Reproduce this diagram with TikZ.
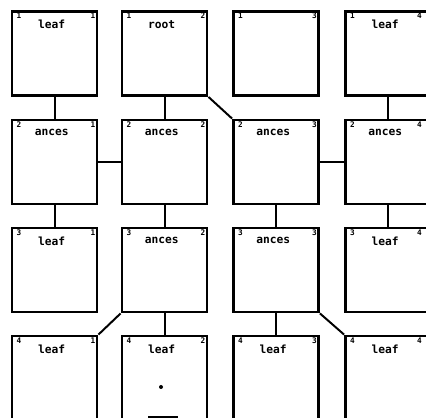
\documentclass[tikz,border=0pt]{standalone}
\usepackage{fontspec}
\newfontfamily\cellfont{DejaVu Sans Mono}
\usepackage{tikz}
\tikzset{
  cell/.style={draw=black, line width=2pt, minimum width=2.125cm, minimum height=2.1cm, inner sep=0pt},
  rowtag/.style={font=\cellfont\bfseries\fontsize{5.5}{6}\selectfont, anchor=north west, inner sep=0pt, xshift=4pt, yshift=-2pt},
  coltag/.style={font=\cellfont\bfseries\fontsize{5.5}{6}\selectfont, anchor=north east, inner sep=0pt, xshift=-2pt, yshift=-2pt},
  kind/.style={font=\cellfont\bfseries\fontsize{8}{9}\selectfont, anchor=north, inner sep=0pt, xshift=-2pt, yshift=-7pt},
  link/.style={line width=1.4pt, draw=black},
}

\begin{document}
\begin{tikzpicture}
\useasboundingbox (0,0) rectangle (10.65,10.45);
% row 1
\node[cell] (b11) at (1.363,9.113) {};
\node[cell] (b12) at (4.113,9.113) {};
\node[cell] (b13) at (6.900,9.113) {};
\node[cell] (b14) at (9.700,9.113) {};
% row 2
\node[cell] (b21) at (1.363,6.400) {};
\node[cell] (b22) at (4.113,6.400) {};
\node[cell] (b23) at (6.900,6.400) {};
\node[cell] (b24) at (9.700,6.400) {};
% row 3
\node[cell] (b31) at (1.363,3.700) {};
\node[cell] (b32) at (4.113,3.700) {};
\node[cell] (b33) at (6.900,3.700) {};
\node[cell] (b34) at (9.700,3.700) {};
% row 4
\node[cell] (b41) at (1.363,1.000) {};
\node[cell] (b42) at (4.113,1.000) {};
\node[cell] (b43) at (6.900,1.000) {};
\node[cell] (b44) at (9.700,1.000) {};
% texts
\node[rowtag] (r11) at (b11.north west) {1};
\node[coltag] (c11) at (b11.north east) {1};
\node[kind] (k11) at (b11.north) {leaf};
\node[rowtag] (r12) at (b12.north west) {1};
\node[coltag] (c12) at (b12.north east) {2};
\node[kind] (k12) at (b12.north) {root};
\node[rowtag] (r13) at (b13.north west) {1};
\node[coltag] (c13) at (b13.north east) {3};
\node[rowtag] (r14) at (b14.north west) {1};
\node[coltag, xshift=-5pt] (c14) at (b14.north east) {4};
\node[kind] (k14) at (b14.north) {leaf};
\node[rowtag] (r21) at (b21.north west) {2};
\node[coltag] (c21) at (b21.north east) {1};
\node[kind] (k21) at (b21.north) {ances};
\node[rowtag] (r22) at (b22.north west) {2};
\node[coltag] (c22) at (b22.north east) {2};
\node[kind] (k22) at (b22.north) {ances};
\node[rowtag] (r23) at (b23.north west) {2};
\node[coltag] (c23) at (b23.north east) {3};
\node[kind] (k23) at (b23.north) {ances};
\node[rowtag] (r24) at (b24.north west) {2};
\node[coltag, xshift=-5pt] (c24) at (b24.north east) {4};
\node[kind] (k24) at (b24.north) {ances};
\node[rowtag] (r31) at (b31.north west) {3};
\node[coltag] (c31) at (b31.north east) {1};
\node[kind] (k31) at (b31.north) {leaf};
\node[rowtag] (r32) at (b32.north west) {3};
\node[coltag] (c32) at (b32.north east) {2};
\node[kind] (k32) at (b32.north) {ances};
\node[rowtag] (r33) at (b33.north west) {3};
\node[coltag] (c33) at (b33.north east) {3};
\node[kind] (k33) at (b33.north) {ances};
\node[rowtag] (r34) at (b34.north west) {3};
\node[coltag, xshift=-5pt] (c34) at (b34.north east) {4};
\node[kind] (k34) at (b34.north) {leaf};
\node[rowtag] (r41) at (b41.north west) {4};
\node[coltag] (c41) at (b41.north east) {1};
\node[kind] (k41) at (b41.north) {leaf};
\node[rowtag] (r42) at (b42.north west) {4};
\node[coltag] (c42) at (b42.north east) {2};
\node[kind] (k42) at (b42.north) {leaf};
\node[rowtag] (r43) at (b43.north west) {4};
\node[coltag] (c43) at (b43.north east) {3};
\node[kind] (k43) at (b43.north) {leaf};
\node[rowtag] (r44) at (b44.north west) {4};
\node[coltag, xshift=-5pt] (c44) at (b44.north east) {4};
\node[kind] (k44) at (b44.north) {leaf};
% marks inside b42
\fill (4.025,0.775) circle (0.05);
\fill (3.70,0) rectangle (4.45,0.06);
% links
\draw[link] (b11.south) -- (b21.north);
\draw[link] (b21.south) -- (b31.north);
\draw[link] (b12.south) -- (b22.north);
\draw[link] (b22.south) -- (b32.north);
\draw[link] (b32.south) -- (b42.north);
\draw[link] (b23.south) -- (b33.north);
\draw[link] (b33.south) -- (b43.north);
\draw[link] (b14.south) -- (b24.north);
\draw[link] (b24.south) -- (b34.north);
\draw[link] (b21.east) -- (b22.west);
\draw[link] (b23.east) -- (b24.west);
\draw[link] (b12.south east) -- (b23.north west);
\draw[link] (b32.south west) -- (b41.north east);
\draw[link] (b33.south east) -- (b44.north west);
\end{tikzpicture}
\end{document}
